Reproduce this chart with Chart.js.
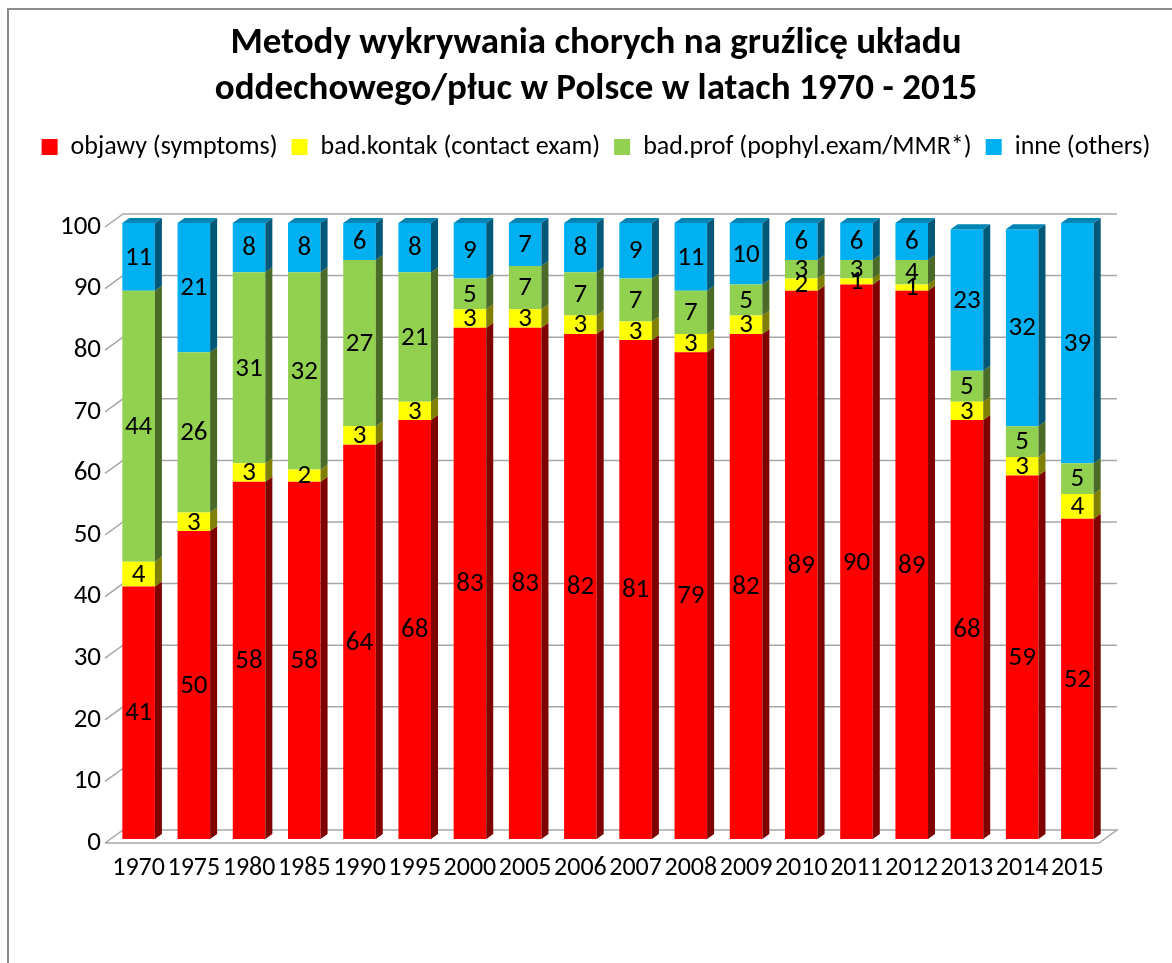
<!DOCTYPE html>
<html>
<head>
<meta charset="utf-8">
<script src="https://cdn.jsdelivr.net/npm/chart.js@4.4.0/dist/chart.umd.min.js"></script>
<style>
  body { margin: 0; background: #fff; }
  #wrap { position: relative; width: 1172px; height: 963px; overflow: hidden; }
  #frame { position: absolute; left: 7px; top: 8px; right: -10px; bottom: -10px;
           border-left: 2px solid #8c8c8c; border-top: 2px solid #8c8c8c; pointer-events: none; }
</style>
</head>
<body>
<div id="wrap">
  <canvas id="chart"></canvas>
  <div id="frame"></div>
</div>
<script>
const years = ['1970', '1975', '1980', '1985', '1990', '1995', '2000', '2005', '2006',
               '2007', '2008', '2009', '2010', '2011', '2012', '2013', '2014', '2015'];

const objawy  = [41, 50, 58, 58, 64, 68, 83, 83, 82, 81, 79, 82, 89, 90, 89, 68, 59, 52];
const kontakt = [ 4,  3,  3,  2,  3,  3,  3,  3,  3,  3,  3,  3,  2,  1,  1,  3,  3,  4];
const profil  = [44, 26, 31, 32, 27, 21,  5,  7,  7,  7,  7,  5,  3,  3,  4,  5,  5,  5];
const inne    = [11, 21,  8,  8,  6,  8,  9,  7,  8,  9, 11, 10,  6,  6,  6, 23, 32, 39];

const seriesNames = ['objawy (symptoms)', 'bad.kontak (contact exam)',
                     'bad.prof (pophyl.exam/MMR*)', 'inne (others)'];
const yTicks = [0, 10, 20, 30, 40, 50, 60, 70, 80, 90, 100];

const titleLines = ['Metody wykrywania chorych na gruźlicę układu',
                    'oddechowego/płuc w Polsce w latach 1970 - 2015'];

// colours: front face, side face, top face
const frontColors = ['#FF0000', '#FFFF00', '#92D050', '#00B0F0'];
const sideColors  = ['#7F0000', '#7F7F00', '#4A6A28', '#005878'];
const topColors   = ['#BF0000', '#BFBF00', '#6E9C3C', '#0084B4'];

const FONT = 'Carlito, Lato, sans-serif';

// 3d offsets (px) relative to the bar plane
const DEPTH_X = 7, DEPTH_Y = 5;
const FRONT_X = -6, FRONT_Y = 4, BACK_X = 12, BACK_Y = -9;

/* back wall + floor */
const wallPlugin = {
  id: 'wall',
  beforeDatasetsDraw(chart) {
    const { ctx, chartArea: a } = chart;
    const y = chart.scales.y;
    ctx.save();
    ctx.strokeStyle = '#a6a6a6';
    ctx.lineWidth = 1.5;
    yTicks.forEach(v => {
      const py = y.getPixelForValue(v);
      ctx.beginPath();
      ctx.moveTo(a.left + FRONT_X, py + FRONT_Y);
      ctx.lineTo(a.left + BACK_X, py + BACK_Y);
      ctx.lineTo(a.right + BACK_X, py + BACK_Y);
      if (v === 0) {
        ctx.lineTo(a.right + FRONT_X, py + FRONT_Y);
        ctx.lineTo(a.left + FRONT_X, py + FRONT_Y);
      }
      ctx.stroke();
    });
    ctx.restore();
  }
};

/* side + top faces of bars, then value labels */
const bars3dPlugin = {
  id: 'bars3d',
  afterDatasetsDraw(chart) {
    const ctx = chart.ctx;
    const sets = chart.data.datasets;
    ctx.save();
    years.forEach((yr, j) => {
      let topIdx = -1;
      sets.forEach((ds, i) => { if (ds.data[j] > 0) topIdx = i; });
      sets.forEach((ds, i) => {
        const el = chart.getDatasetMeta(i).data[j];
        const { x, y, base, width } = el.getProps(['x', 'y', 'base', 'width'], true);
        const left = x - width / 2, right = x + width / 2;
        ctx.fillStyle = sideColors[i];
        ctx.beginPath();
        ctx.moveTo(right, y);
        ctx.lineTo(right + DEPTH_X, y - DEPTH_Y);
        ctx.lineTo(right + DEPTH_X, base - DEPTH_Y);
        ctx.lineTo(right, base);
        ctx.closePath();
        ctx.fill();
        if (i === topIdx) {
          ctx.fillStyle = topColors[i];
          ctx.beginPath();
          ctx.moveTo(left, y);
          ctx.lineTo(left + DEPTH_X, y - DEPTH_Y);
          ctx.lineTo(right + DEPTH_X, y - DEPTH_Y);
          ctx.lineTo(right, y);
          ctx.closePath();
          ctx.fill();
        }
      });
    });

    ctx.fillStyle = '#000';
    ctx.font = '27px ' + FONT;
    ctx.textAlign = 'center';
    ctx.textBaseline = 'middle';
    sets.forEach((ds, i) => {
      chart.getDatasetMeta(i).data.forEach((el, j) => {
        const { x, y, base } = el.getProps(['x', 'y', 'base'], true);
        ctx.fillText(String(ds.data[j]), x, (y + base) / 2 + 1);
      });
    });
    ctx.restore();
  }
};

const ctx = document.getElementById('chart');

new Chart(ctx, {
  type: 'bar',
  data: {
    labels: years,
    datasets: [objawy, kontakt, profil, inne].map((d, i) => ({
      label: seriesNames[i],
      data: d,
      backgroundColor: frontColors[i],
      borderWidth: 0,
      xAxisID: 'x',
      yAxisID: 'y'
    }))
  },
  options: {
    responsive: true,
    maintainAspectRatio: false,
    animation: false,
    layout: { padding: { top: 0, right: 0, bottom: 0, left: 20 } },
    datasets: { bar: { barPercentage: 0.59, categoryPercentage: 1 } },
    plugins: {
      title: {
        display: true,
        text: titleLines,
        color: '#000',
        font: { family: FONT, size: 37, weight: 'bold', lineHeight: '46px' },
        padding: { top: 21, bottom: 7 }
      },
      legend: {
        labels: {
          boxWidth: 16, boxHeight: 16, padding: 14, color: '#000',
          font: { family: FONT, size: 26 }
        }
      },
      tooltip: { enabled: false }
    },
    scales: {
      x: {
        stacked: true,
        grid: { display: false, drawTicks: false },
        border: { display: false },
        ticks: { autoSkip: false, maxRotation: 0, color: '#000', padding: 14,
                 font: { family: FONT, size: 26 } },
        afterFit: s => { s.height = 124; }
      },
      y: {
        stacked: true,
        min: 0,
        max: 100,
        grid: { display: false, drawTicks: false },
        border: { display: false },
        ticks: { color: '#000', padding: 10, labelOffset: 4,
                 font: { family: FONT, size: 27 } },
        afterBuildTicks: s => { s.ticks = yTicks.map(v => ({ value: v })); },
        afterFit: s => { s.width = 91; }
      },
      spacer: {
        type: 'category',
        position: 'top',
        grid: { display: false, drawTicks: false },
        border: { display: false },
        ticks: { display: false },
        afterFit: s => { s.height = 53; }
      },
      spacerRight: {
        type: 'linear',
        position: 'right',
        grid: { display: false, drawTicks: false },
        border: { display: false },
        ticks: { display: false },
        afterFit: s => { s.width = 67; }
      }
    }
  },
  plugins: [wallPlugin, bars3dPlugin]
});
</script>
</body>
</html>
